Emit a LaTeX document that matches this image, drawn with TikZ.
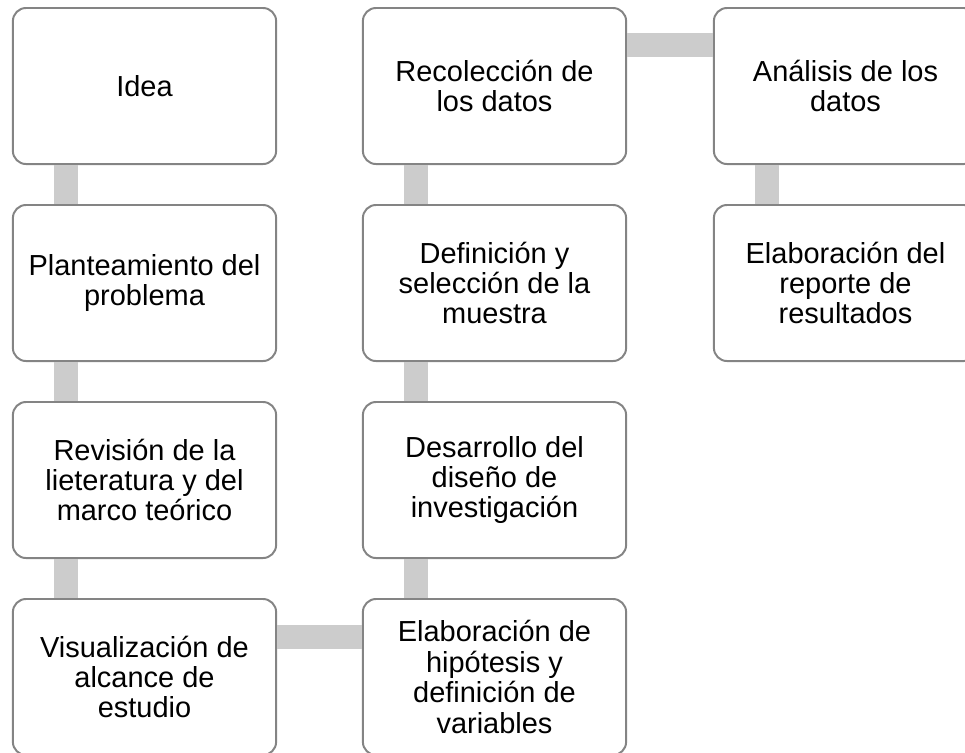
\documentclass[tikz,border=0pt]{standalone}
\usepackage{fontspec}
\setmainfont{Liberation Sans}
\usetikzlibrary{calc}
\definecolor{bordegris}{HTML}{848484}
\definecolor{enlacegris}{HTML}{CCCCCC}

\begin{document}
\begin{tikzpicture}[x=0.025cm,y=-0.025cm,
  paso/.style={draw=bordegris, line width=1.4pt, rounded corners=0.33cm, fill=white,
    minimum width=6.58cm, minimum height=3.9cm, inner sep=0pt, align=center,
    font=\fontsize{20.6pt}{21.6pt}\selectfont},
  enlace/.style={enlacegris, line width=0.6cm}]
\useasboundingbox (0,0) rectangle (965,752);
% columna 1
\node[paso] (idea) at (144.5,86) {Idea};
\node[paso] (plan) at (144.5,283) {Planteamiento del\\problema};
\node[paso] (revi) at (144.5,480) {Revisi\'on de la\\lieteratura y del\\marco te\'orico};
\node[paso] (visu) at (144.5,677) {Visualizaci\'on de\\alcance de\\estudio};
% columna 2
\node[paso] (hipo) at (494.5,677) {Elaboraci\'on de\\hip\'otesis y\\definici\'on de\\variables};
\node[paso] (dise) at (494.5,480) {Desarrollo del\\dise\~no de\\investigaci\'on};
\node[paso] (mues) at (494.5,283) {Definici\'on y\\selecci\'on de la\\muestra};
\node[paso] (reco) at (494.5,86) {Recolecci\'on de\\los datos};
% columna 3
\node[paso] (anal) at (845.5,86) {An\'alisis de los\\datos};
\node[paso] (repo) at (845.5,283) {Elaboraci\'on del\\reporte de\\resultados};
% enlaces
\draw[enlace] ($(idea.south west)+(54,0)$) -- ($(plan.north west)+(54,0)$);
\draw[enlace] ($(plan.south west)+(54,0)$) -- ($(revi.north west)+(54,0)$);
\draw[enlace] ($(revi.south west)+(54,0)$) -- ($(visu.north west)+(54,0)$);
\draw[enlace] ($(visu.north east)+(0,39)$) -- ($(hipo.north west)+(0,39)$);
\draw[enlace] ($(hipo.north west)+(54,0)$) -- ($(dise.south west)+(54,0)$);
\draw[enlace] ($(dise.north west)+(54,0)$) -- ($(mues.south west)+(54,0)$);
\draw[enlace] ($(mues.north west)+(54,0)$) -- ($(reco.south west)+(54,0)$);
\draw[enlace] ($(reco.north east)+(0,38)$) -- ($(anal.north west)+(0,38)$);
\draw[enlace] ($(anal.south west)+(54,0)$) -- ($(repo.north west)+(54,0)$);
\end{tikzpicture}
\end{document}
